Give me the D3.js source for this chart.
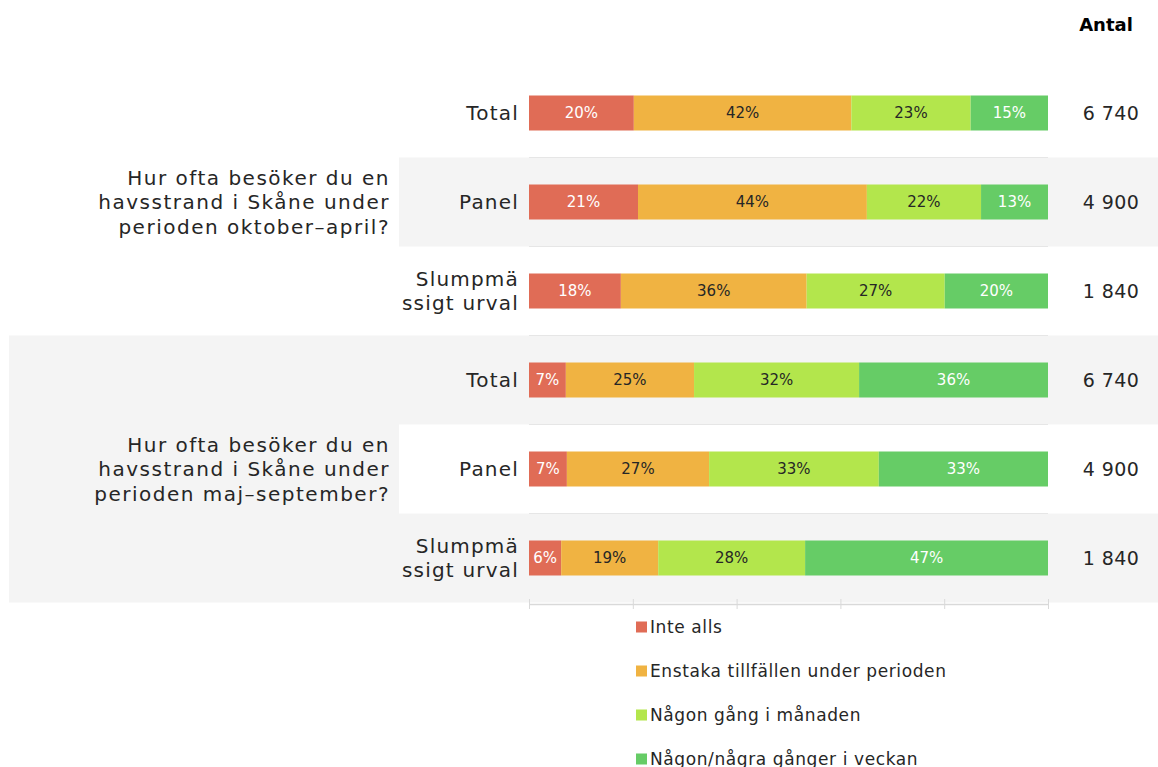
<!DOCTYPE html>
<html>
<head>
<meta charset="utf-8">
<script src="https://cdn.jsdelivr.net/npm/d3@7"></script>
<style>
  body { margin: 0; background: #fff; }
  text { font-family: 'Century Gothic', 'DejaVu Sans', sans-serif; fill: #262626; }
</style>
</head>
<body>
<script>
const width = 1158;
const height = 767;

// answer categories (legend order = stack order)
const categories = ['Inte alls', 'Enstaka tillfällen under perioden', 'Någon gång i månaden', 'Någon/några gånger i veckan'];
const colors = ['#e06c56', '#f0b342', '#b3e64c', '#66cc66'];
const labelColors = ['#ffffff', '#262626', '#262626', '#ffffff'];

const questions = [
    ['Hur ofta besöker du en', 'havsstrand i Skåne under', 'perioden oktober–april?'],
    ['Hur ofta besöker du en', 'havsstrand i Skåne under', 'perioden maj–september?']
];
const groupLabels = [['Total'], ['Panel'], ['Slumpmä', 'ssigt urval']];

// percent per category, rows: Total, Panel, Slumpmässigt urval
const octApr = [
    [20.2, 41.9, 23.0, 14.9],
    [21.0, 44.1, 22.0, 12.9],
    [17.7, 35.8, 26.6, 19.9]
];
const majSep = [
    [7.1, 24.7, 31.8, 36.4],
    [7.3, 27.4, 32.7, 32.6],
    [6.2, 18.7, 28.3, 46.8]
];
const counts = [6740, 4900, 1840];
const xTicks = [0, 20, 40, 60, 80, 100];

const fmtCount = d3.formatLocale({ decimal: ',', thousands: ' ', grouping: [3], currency: ['', ''] }).format(',d');
const fmtPct = d => Math.round(d) + '%';

// one row per bar
const rows = [];
[octApr, majSep].forEach((q, qi) => {
    q.forEach((vals, gi) => {
        let acc = 0;
        const segs = vals.map((v, ci) => {
            const s = { ci: ci, x0: acc, x1: acc + v, v: v };
            acc += v;
            return s;
        });
        rows.push({ id: qi * 3 + gi, qi: qi, gi: gi, segs: segs, count: counts[gi] });
    });
});

const xScale = d3.scaleLinear().domain([0, 100]).range([529, 1048]);
const yScale = d3.scaleBand().domain(rows.map(d => d.id)).range([68.5, 602.5]).padding(0);
const barH = 35;

const svg = d3.select('body')
    .append('svg')
    .attr('width', width)
    .attr('height', height);

// background shading
const bg = svg.append('g');
bg.append('rect')
    .attr('x', 9).attr('width', width - 9)
    .attr('y', yScale(3)).attr('height', yScale(5) + yScale.bandwidth() - yScale(3))
    .attr('fill', '#f4f4f4');
bg.append('rect')
    .attr('x', 399).attr('width', width - 399)
    .attr('y', yScale(1)).attr('height', yScale.bandwidth())
    .attr('fill', '#f4f4f4');
bg.append('rect')
    .attr('x', 399).attr('width', width - 399)
    .attr('y', yScale(4)).attr('height', yScale.bandwidth())
    .attr('fill', '#ffffff');

// row borders in plot area
svg.append('g')
    .selectAll('line')
    .data(rows.slice(1))
    .enter()
    .append('line')
    .attr('x1', xScale(0)).attr('x2', xScale(100))
    .attr('y1', d => yScale(d.id)).attr('y2', d => yScale(d.id))
    .attr('stroke', '#e6e6e6')
    .attr('stroke-width', 1);

// axis
const xAxis = d3.axisBottom(xScale).tickValues(xTicks).tickFormat('').tickSize(5).tickSizeOuter(0);
const axisG = svg.append('g')
    .attr('transform', 'translate(0, 604)')
    .call(xAxis);
axisG.select('.domain').attr('stroke', '#d9d9d9').attr('stroke-width', 1.5);
axisG.selectAll('.tick line').attr('stroke', '#d9d9d9').attr('y1', -5).attr('y2', 5);

// bars
const rowG = svg.append('g')
    .selectAll('g')
    .data(rows)
    .enter()
    .append('g')
    .attr('transform', d => `translate(0, ${yScale(d.id) + yScale.bandwidth() / 2})`);

rowG.selectAll('rect')
    .data(d => d.segs)
    .enter()
    .append('rect')
    .attr('x', d => xScale(d.x0))
    .attr('width', d => xScale(d.x1) - xScale(d.x0))
    .attr('y', -barH / 2)
    .attr('height', barH)
    .attr('fill', d => colors[d.ci]);

rowG.selectAll('text.val')
    .data(d => d.segs)
    .enter()
    .append('text')
    .attr('class', 'val')
    .attr('x', d => (xScale(d.x0) + xScale(d.x1)) / 2)
    .attr('y', 0)
    .attr('dy', '0.35em')
    .attr('text-anchor', 'middle')
    .style('font-size', '15px')
    .style('fill', d => labelColors[d.ci])
    .text(d => fmtPct(d.v));

// row labels
rowG.append('text')
    .attr('text-anchor', 'end')
    .style('font-size', '20px')
    .style('letter-spacing', '1.2px')
    .selectAll('tspan')
    .data(d => groupLabels[d.gi].map((t, i, a) => ({ t: t, dy: (i - (a.length - 1) / 2) * 24.5 })))
    .enter()
    .append('tspan')
    .attr('x', 519)
    .attr('y', d => d.dy)
    .attr('dy', '0.35em')
    .text(d => d.t);

// counts
rowG.append('text')
    .attr('x', 1111)
    .attr('dy', '0.35em')
    .attr('text-anchor', 'middle')
    .style('font-size', '19px')
    .style('letter-spacing', '0.4px')
    .text(d => fmtCount(d.count));

// question labels
svg.append('g')
    .selectAll('text')
    .data(questions)
    .enter()
    .append('text')
    .attr('text-anchor', 'end')
    .style('font-size', '20px')
    .style('letter-spacing', '1.5px')
    .attr('transform', (d, i) => `translate(390, ${yScale(i * 3 + 1) + yScale.bandwidth() / 2})`)
    .selectAll('tspan')
    .data(d => d.map((t, i, a) => ({ t: t, dy: (i - (a.length - 1) / 2) * 24.5 })))
    .enter()
    .append('tspan')
    .attr('x', 0)
    .attr('y', d => d.dy)
    .attr('dy', '0.35em')
    .text(d => d.t);

// header
svg.append('text')
    .attr('x', 1106)
    .attr('y', 25)
    .attr('dy', '0.35em')
    .attr('text-anchor', 'middle')
    .style('font-size', '18px')
    .style('font-weight', 'bold')
    .style('fill', '#000')
    .text('Antal');

// legend
const legend = svg.append('g')
    .selectAll('g')
    .data(categories)
    .enter()
    .append('g')
    .attr('transform', (d, i) => `translate(636, ${627 + i * 44})`);

legend.append('rect')
    .attr('x', 0).attr('y', -5.5)
    .attr('width', 11).attr('height', 11)
    .attr('fill', (d, i) => colors[i]);

legend.append('text')
    .attr('x', 14)
    .attr('dy', '0.35em')
    .style('font-size', '17px')
    .style('letter-spacing', '0.6px')
    .text(d => d);
</script>
</body>
</html>
